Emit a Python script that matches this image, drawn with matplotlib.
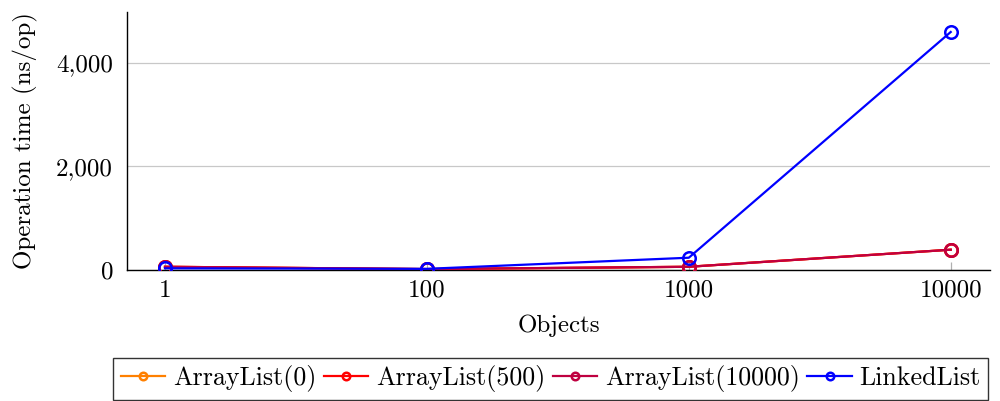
import matplotlib
matplotlib.use("Agg")
import matplotlib.pyplot as plt
from matplotlib.ticker import FuncFormatter

# benchmark results, ns per operation
objects = ["1", "100", "1000", "10000"]
array_list_0 = [60, 15, 60, 390]
array_list_500 = [60, 15, 60, 390]
array_list_10000 = [60, 15, 60, 390]
linked_list = [30, 20, 235, 4600]

series = [
    ("ArrayList(0)", array_list_0, "#ff8000"),
    ("ArrayList(500)", array_list_500, "#ff0000"),
    ("ArrayList(10000)", array_list_10000, "#bf0040"),
    ("LinkedList", linked_list, "#0000ff"),
]

plt.rcParams["font.family"] = ["cmr10", "DejaVu Serif"]
plt.rcParams["mathtext.fontset"] = "cm"
plt.rcParams["axes.formatter.use_mathtext"] = True

fig = plt.figure(figsize=(10, 4.01), dpi=100)
ax = fig.add_axes([0.127, 0.327, 0.863, 0.643])

xs = range(len(objects))
for name, vals, color in series:
    ax.plot(xs, vals, color=color, lw=1.6, marker="o", ms=9, mfc="none",
            mew=1.8, label=name, zorder=3)

ax.set_xticks(list(xs))
ax.set_xticklabels(objects)
ax.set_xlim(-0.145, 3.15)
ax.set_ylim(0, 4986)
ax.set_yticks([0, 2000, 4000])
ax.yaxis.set_major_formatter(FuncFormatter(lambda v, p: f"{v:,.0f}"))
ax.yaxis.grid(True, color="#c8c8c8", lw=0.9)
ax.set_axisbelow(True)

for side in ("top", "right"):
    ax.spines[side].set_visible(False)
for side in ("left", "bottom"):
    ax.spines[side].set_linewidth(1.0)

ax.tick_params(axis="both", direction="in", color="#b0b0b0", length=6,
               labelsize=18, width=0.9)
ax.tick_params(axis="x", pad=7)
ax.tick_params(axis="y", length=0, pad=10)

ax.set_xlabel("Objects", fontsize=18, labelpad=9.5)
ax.set_ylabel("Operation time (ns/op)", fontsize=18, labelpad=13)

leg = fig.legend(loc="upper left", bbox_to_anchor=(0.113, 0.108), ncol=4,
                 fontsize=18.7, frameon=True, fancybox=False, edgecolor="black",
                 handlelength=1.7, handletextpad=0.3, columnspacing=0.3,
                 borderpad=0.3, borderaxespad=0, markerscale=0.6)
leg.get_frame().set_linewidth(1.0)

fig.savefig("out.png", dpi=100)
